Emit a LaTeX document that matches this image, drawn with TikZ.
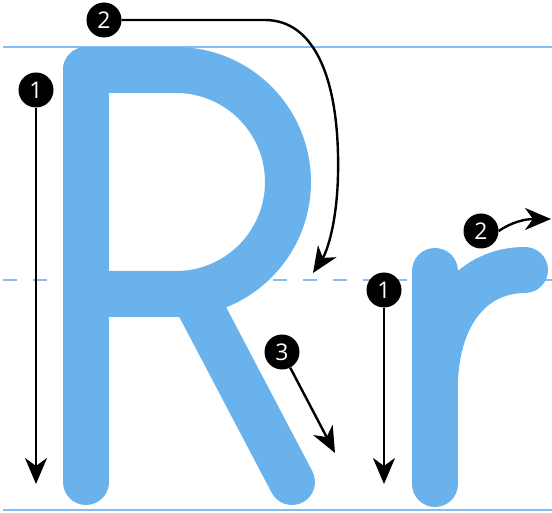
\documentclass[tikz,border=0pt]{standalone}
\usepackage{fontspec}
\setmainfont{Open Sans}
\usetikzlibrary{arrows.meta}
\definecolor{letterblue}{HTML}{6AB2EC}
\definecolor{guideblue}{HTML}{85BCF2}
\tikzset{
  num/.style={circle,fill=black,text=white,inner sep=0pt,minimum size=35pt,font=\fontsize{23}{23}\selectfont},
  stroke/.style={draw=letterblue,line width=46pt,line cap=round,line join=round},
  guide/.style={draw=guideblue,line width=2.5pt},
  arr/.style={-{Stealth[length=26pt,width=22pt,inset=8pt]},line width=2.4pt},
}
\begin{document}
\begin{tikzpicture}[x=1pt,y=-1pt]
  \useasboundingbox (0,0) rectangle (552,513);
  % guide lines
  \draw[guide] (3,47) -- (552,47);
  \draw[guide,dash pattern=on 14pt off 16pt] (3,280) -- (552,280);
  \draw[guide] (3,510) -- (552,510);
  % capital R
  \draw[stroke] (86,482) -- (86,70);
  \draw[stroke] (86,70) -- (176,70) arc[start angle=-90,end angle=90,radius=112] -- (86,294);
  \draw[stroke] (199,305) -- (292,482);
  % small r
  \draw[stroke] (435,271) -- (435,484);
  \draw[stroke] (435,380) .. controls (438,310) and (475,270) .. (525,270);
  % stroke order, R
  \node[num] (n1R) at (36,90) {1};
  \coordinate (e1R) at (36,484);
  \draw[arr] (n1R) -- (e1R);
  \node[num] (n2R) at (104,20) {2};
  \coordinate (e2R) at (313,273);
  \draw[arr] (n2R.east) -- (265,20) .. controls (315,20) and (340,80) .. (338,175) .. controls (337,220) and (328,250) .. (e2R);
  \node[num] (n3R) at (282,352) {3};
  \coordinate (e3R) at (335,453);
  \draw[arr] (n3R) -- (e3R);
  % stroke order, r
  \node[num] (n1r) at (384,290) {1};
  \coordinate (e1r) at (384,484);
  \draw[arr] (n1r) -- (e1r);
  \node[num] (n2r) at (481,231) {2};
  \coordinate (e2r) at (551,219);
  \draw[arr] (n2r.east) .. controls (512,222) and (525,219) .. (e2r);
\end{tikzpicture}
\end{document}
